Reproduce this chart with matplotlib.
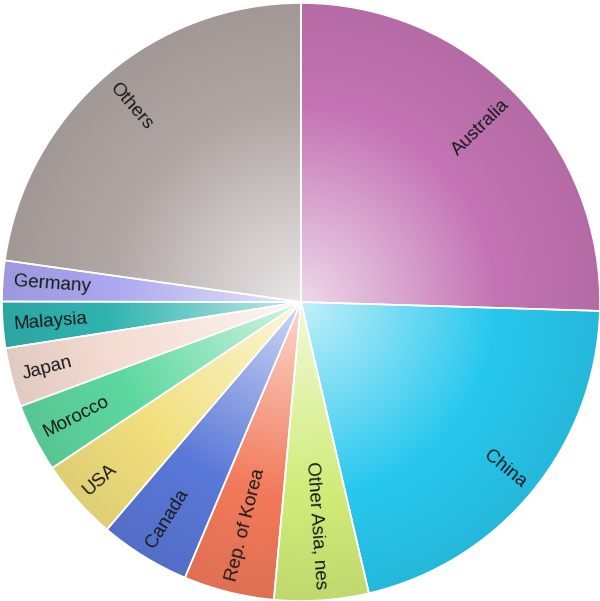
import numpy as np
import matplotlib.pyplot as plt
from matplotlib.colors import to_rgb

# shares of total (percent), clockwise from 12 o'clock
labels = ["Australia", "China", "Other Asia, nes", "Rep. of Korea", "Canada",
          "USA", "Morocco", "Japan", "Malaysia", "Germany", "Others"]
shares = [25.5, 20.9, 5.1, 4.9, 4.9, 4.4, 3.7, 3.2, 2.5, 2.2, 22.8]
colors = ["#c474b4", "#28c8ee", "#d0ec78", "#f27a5a", "#5a78d8",
          "#f2e07e", "#5ed8a0", "#f4dcd2", "#30b4b0", "#aaa6f0", "#b0a6a4"]


def radial_fill(base, n=400):
    # light in the middle, base colour mid-way, slightly darker at the rim
    g = np.linspace(-1, 1, n)
    xx, yy = np.meshgrid(g, g)
    rr = np.sqrt(xx**2 + yy**2)
    w = np.clip(0.72 * (1 - rr / 0.65), 0, None)
    d = np.clip(0.08 * (rr - 0.65) / 0.35, 0, None)
    c = np.array(to_rgb(base))
    img = c[None, None, :] * (1 - w[..., None]) + w[..., None]
    img = img * (1 - d[..., None])
    return np.clip(img, 0, 1)


fig = plt.figure(figsize=(6, 6.01), dpi=100)
ax = fig.add_axes([0, 0, 1, 1])

wedges, _ = ax.pie(shares, colors=colors, startangle=90, counterclock=False,
                   radius=1, center=(0, 0),
                   wedgeprops=dict(edgecolor="white", linewidth=1.2))

for wd, col in zip(wedges, colors):
    im = ax.imshow(radial_fill(col), extent=[-1, 1, -1, 1], origin="lower",
                   zorder=1, interpolation="bilinear")
    im.set_clip_path(wd)
    wd.set_facecolor("none")
    wd.set_zorder(2)

# radial labels, outer end close to the rim
for wd, lab in zip(wedges, labels):
    mid = np.deg2rad((wd.theta1 + wd.theta2) / 2)
    ang = np.rad2deg(mid)
    x, y = 0.962 * np.cos(mid), 0.962 * np.sin(mid)
    if np.cos(mid) >= 0:
        rot, ha = ang, "right"
    else:
        rot, ha = ang - 180, "left"
    ax.text(x, y, lab, rotation=rot, rotation_mode="anchor", ha=ha,
            va="center", fontsize=13.5, color="#1a1a1a",
            family="Liberation Sans", zorder=3)

ax.set_xlim(-301 / 299, 1.0)
ax.set_ylim(-1.0, 302 / 299)
ax.set_aspect("auto")
ax.axis("off")

fig.savefig("out.png", dpi=100, facecolor="white")
